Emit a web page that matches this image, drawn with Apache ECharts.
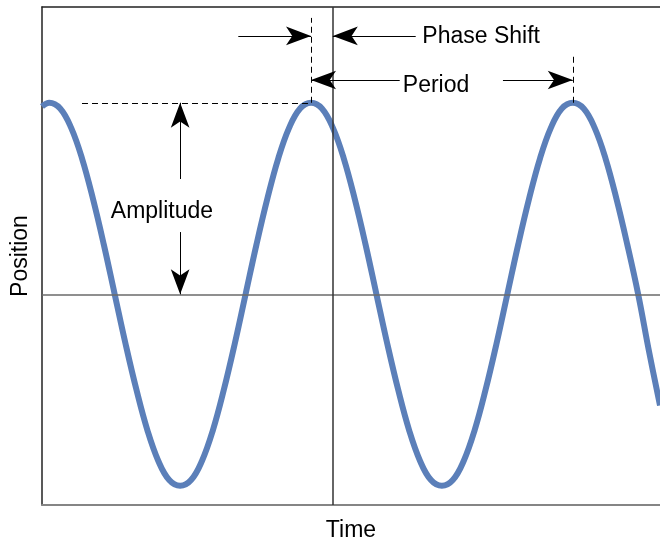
<!DOCTYPE html>
<html>
<head>
<meta charset="utf-8">
<script src="https://cdn.jsdelivr.net/npm/echarts@6/dist/echarts.min.js"></script>
<style>
  html, body { margin: 0; padding: 0; background: #fff; }
  #chart { width: 660px; height: 540px; }
</style>
</head>
<body>
<div id="chart"></div>
<script>
// time in degrees of phase, 0 = the vertical reference line
const timeDeg = [-400, -390, -375, -360, -345, -330, -315, -300, -285, -270, -255, -240,
  -225, -210, -195, -180, -165, -150, -135, -120, -105, -90, -75, -60, -45, -30, -15,
  0, 15, 30, 45, 60, 75, 90, 105, 120, 135, 150, 165, 180, 195, 210, 225, 240, 255,
  270, 285, 300, 315, 330, 345, 360, 375, 390, 405, 420, 435, 450];
// position, in units of the amplitude
const position = [0.98, 1, 0.97, 0.87, 0.71, 0.5, 0.26, 0, -0.26, -0.5, -0.71, -0.87,
  -0.97, -1, -0.97, -0.87, -0.71, -0.5, -0.26, 0, 0.26, 0.5, 0.71, 0.87, 0.97, 1, 0.97,
  0.87, 0.71, 0.5, 0.26, 0, -0.26, -0.5, -0.71, -0.87, -0.97, -1, -0.97, -0.87, -0.71,
  -0.5, -0.26, 0, 0.26, 0.5, 0.71, 0.87, 0.97, 1, 0.97, 0.87, 0.71, 0.5, 0.26, 0, -0.3, -0.58];

const peakTimes = [-30, 330];   // the two peaks used for phase shift and period
const troughTime = -210;        // amplitude arrow sits over this trough
const amplitude = 1;

const font = 'Liberation Sans, Arial, Helvetica, sans-serif';
const chart = echarts.init(document.getElementById('chart'));

const dashed = { color: '#000', width: 1, type: [6, 4] };
const thin = { color: '#000', width: 1, type: 'solid' };

function arrow(from, to) {
  return [
    { coord: from, symbol: 'none', lineStyle: thin },
    { coord: to, symbol: 'arrow', symbolSize: [14, 25] }
  ];
}
function seg(from, to, style) {
  return [{ coord: from, symbol: 'none', lineStyle: style }, { coord: to, symbol: 'none' }];
}

const p0 = peakTimes[0], p1 = peakTimes[1];
const hiddenBits = { axisTick: { show: false }, axisLabel: { show: false }, splitLine: { show: false } };

const option = {
  animation: false,
  grid: { left: 42, right: 0, top: 7, bottom: 35, outerBoundsMode: 'none', containLabel: false },
  xAxis: [Object.assign({
    type: 'value', min: -400, max: 450,
    name: 'Time', nameLocation: 'middle', nameGap: 14,
    nameTextStyle: { fontSize: 23, color: '#000', fontFamily: font },
    axisLine: { show: true, onZero: false, lineStyle: { color: '#858585', width: 2 } }
  }, hiddenBits), Object.assign({
    type: 'value', position: 'top', min: -400, max: 450,
    axisLine: { show: true, onZero: false, lineStyle: { color: '#222', width: 1.5 } }
  }, hiddenBits)],
  yAxis: Object.assign({
    type: 'value', min: -1.1, max: 1.5,
    name: 'Position', nameLocation: 'middle', nameGap: 10,
    nameTextStyle: { fontSize: 23, color: '#000', fontFamily: font },
    axisLine: { show: true, onZero: false, lineStyle: { color: '#222', width: 1.5 } }
  }, hiddenBits),
  series: [{
    type: 'line',
    data: timeDeg.map((t, i) => [t, position[i]]),
    smooth: 0.4,
    showSymbol: false,
    lineStyle: { color: '#5b7fb9', width: 6 },
    z: 2,
    markLine: {
      silent: true,
      animation: false,
      label: { show: false },
      data: [
        seg([-400, 0], [450, 0], { color: '#6a6a6a', width: 1.5, type: 'solid' }),
        seg([0, -1.1], [0, 1.5], { color: '#333', width: 1.5, type: 'solid' }),
        seg([-345, amplitude], [p0, amplitude], dashed),
        seg([p0, amplitude], [p0, 1.443], dashed),
        seg([p1, amplitude], [p1, 1.249], dashed),
        arrow([-130, 1.349], [p0, 1.349]),
        arrow([114, 1.349], [0, 1.349]),
        arrow([92, 1.119], [p0, 1.119]),
        arrow([234, 1.119], [p1, 1.119]),
        arrow([troughTime, 0.602], [troughTime, amplitude]),
        arrow([troughTime, 0.325], [troughTime, 0])
      ]
    },
    markPoint: {
      silent: true,
      symbol: 'circle',
      symbolSize: 0,
      label: { show: true, position: 'inside', fontSize: 23, color: '#000', fontFamily: font },
      data: [
        { coord: [204, 1.345], label: { formatter: 'Phase Shift' } },
        { coord: [142, 1.09], label: { formatter: 'Period' } },
        { coord: [-235, 0.43], label: { formatter: 'Amplitude' } }
      ]
    }
  }]
};

chart.setOption(option);
</script>
</body>
</html>
